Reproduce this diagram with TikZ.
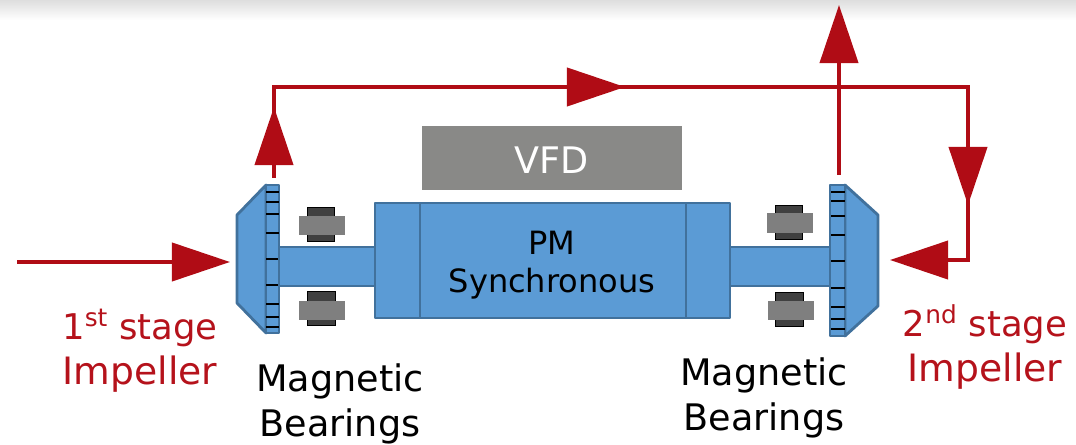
\documentclass[tikz,border=0pt]{standalone}
\usepackage{fontspec}
\setmainfont{DejaVu Sans}
\usetikzlibrary{arrows.meta}
\definecolor{partblue}{HTML}{5B9BD5}
\definecolor{partedge}{HTML}{41719C}
\definecolor{flowred}{HTML}{B00C15}
\definecolor{labelred}{HTML}{B5121B}
\definecolor{vfdgray}{HTML}{898987}
\definecolor{padgray}{HTML}{7F7F7F}
\definecolor{coredark}{HTML}{404040}
\newcommand{\stagefont}{\fontsize{25.2}{32}\selectfont}
\tikzset{
  part/.style={draw=partedge,line width=2pt,fill=partblue,inner sep=0pt,line join=round},
  core/.style={draw=black,line width=0.6pt,fill=coredark,inner sep=0pt,minimum width=0.68cm,minimum height=0.85cm},
  pad/.style={fill=padgray,inner sep=0pt,minimum width=1.15cm,minimum height=0.48cm},
  flow/.style={flowred,line width=2.8pt,-{Triangle[length=1.45cm,width=0.95cm]}},
  word/.style={align=center,inner sep=0pt,font=\fontsize{26}{32}\selectfont},
  redword/.style={word,text=labelred,font=\fontsize{26.8}{32}\selectfont},
}
\begin{document}
\begin{tikzpicture}[x=0.025cm,y=-0.025cm]
\useasboundingbox (0,0) rectangle (1076,445);
\shade[top color=black!13,bottom color=white] (0,0) rectangle (1076,20);
% flow points
\coordinate (inA) at (17,262);
\coordinate (inB) at (230,262);
\coordinate (upA) at (274,178);
\coordinate (upB) at (274,107);
\coordinate (upC) at (274,125);
\coordinate (topM) at (600,87);
\coordinate (topA) at (625,87);
\coordinate (topB) at (968,87);
\coordinate (downM) at (968,185);
\coordinate (downB) at (968,205);
\coordinate (backA) at (968,260);
\coordinate (backB) at (890,260);
\coordinate (outA) at (839,175);
\coordinate (outB) at (839,5);
% impellers
\draw[part] (266,185)--(237,215)--(237,303)--(266,333)--cycle;
\draw[part] (845,185)--(878,215)--(878,306)--(845,336)--cycle;
\node[part,minimum width=0.325cm,minimum height=3.7cm] (ringL) at (272.5,259) {};
\node[part,minimum width=0.375cm,minimum height=3.775cm] (ringR) at (837.5,260.5) {};
\foreach \y in {192,202,214,233,259,285,304,317,327}
  \draw[black,line width=1.5pt] (266,\y)--(279,\y);
\foreach \y in {192,201,216,235,261,288,307,319,329}
  \draw[black,line width=1.5pt] (831,\y)--(845,\y);
% shaft and motor
\node[part,minimum width=2.4cm,minimum height=0.975cm] (shaftL) at (327,266.5) {};
\node[part,minimum width=2.5cm,minimum height=0.975cm] (shaftR) at (780,266.5) {};
\node[part,minimum width=8.875cm,minimum height=2.875cm] (motor) at (552.5,260.5) {};
\draw[partedge,line width=1.4pt] (420,203)--(420,318);
\draw[partedge,line width=1.4pt] (686,203)--(686,318);
\node[word,font=\fontsize{22.8}{27}\selectfont,text=black] (motorText) at (552,265) {PM\\Synchronous};
\node[fill=vfdgray,text=white,inner sep=0pt,minimum width=6.475cm,minimum height=1.6cm,text height=22pt,text depth=0pt,font=\fontsize{26}{30}\selectfont] (vfd) at (552,158) {VFD};
% bearings
\node[core] (coreLT) at (321,224) {};
\node[pad] (padLT) at (322,225.5) {};
\node[core] (coreLB) at (321.5,308) {};
\node[pad] (padLB) at (322,310.5) {};
\node[core] (coreRT) at (789,222) {};
\node[pad] (padRT) at (790,223) {};
\node[core] (coreRB) at (789.5,309) {};
\node[pad] (padRB) at (791,310.5) {};
% flow lines
\draw[flow] (inA)--(inB);
\draw[flow] (upA)--(upB);
\draw[flow] (upC)--(274,87)--(topA);
\draw[flow] (topM)--(topB)--(downB);
\draw[flow] (downM)--(backA)--(backB);
\draw[flow] (outA)--(outB);
% labels
\node[redword] (firstText) at (140,351) {{\stagefont 1\textsuperscript{st} stage}\\Impeller};
\node[redword] (secondText) at (985,347) {{\stagefont 2\textsuperscript{nd} stage}\\Impeller};
\node[word] (bearingL) at (340,404) {Magnetic\\Bearings};
\node[word] (bearingR) at (764,398) {Magnetic\\Bearings};
\end{tikzpicture}
\end{document}
